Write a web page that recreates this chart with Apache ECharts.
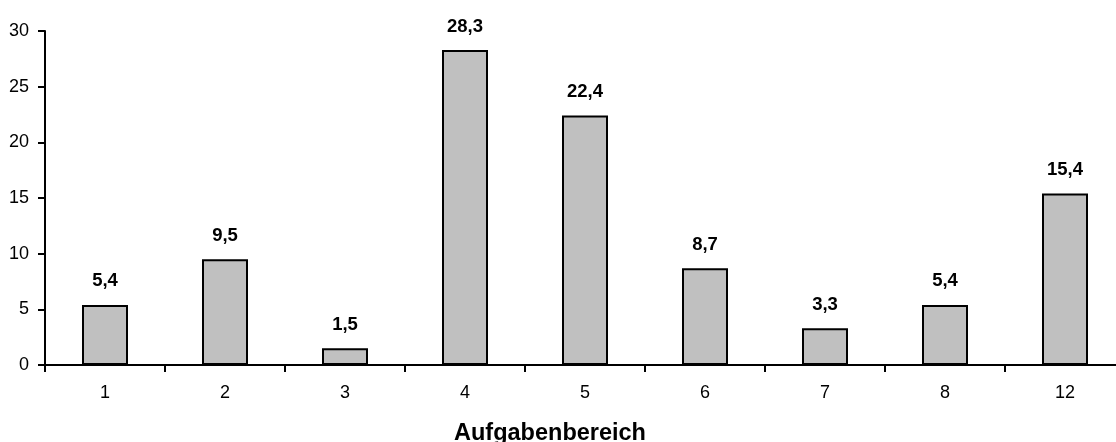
<!DOCTYPE html>
<html>
<head>
<meta charset="utf-8">
<script src="https://cdn.jsdelivr.net/npm/echarts@6/dist/echarts.min.js"></script>
<style>
html,body{margin:0;padding:0;background:#fff;}
#c{width:1116px;height:442px;}
</style>
</head>
<body>
<div id="c"></div>
<script>
const categories = ['1', '2', '3', '4', '5', '6', '7', '8', '12'];
const values = [5.4, 9.5, 1.5, 28.3, 22.4, 8.7, 3.3, 5.4, 15.4];
const xTitle = 'Aufgabenbereich';
const yMin = 0, yMax = 30, yStep = 5;

const sans = "'Liberation Sans', Arial, sans-serif";
const chart = echarts.init(document.getElementById('c'), null, {renderer: 'canvas'});
chart.setOption({
  animation: false,
  backgroundColor: '#ffffff',
  grid: {left: 45, top: 31, right: -9, bottom: 77, containLabel: false, outerBoundsMode: 'none'},
  xAxis: {
    type: 'category',
    data: categories,
    boundaryGap: true,
    name: xTitle,
    nameLocation: 'middle',
    nameGap: 57,
    nameTextStyle: {fontFamily: sans, fontWeight: 'bold', fontSize: 23.5, color: '#000', padding: [0, 70, 0, 0]},
    axisLine: {lineStyle: {color: '#000', width: 2}},
    axisTick: {show: true, alignWithLabel: false, length: 7, lineStyle: {color: '#000', width: 2}},
    axisLabel: {margin: 19, fontFamily: sans, fontSize: 18, color: '#000'},
    splitLine: {show: false}
  },
  yAxis: {
    type: 'value',
    min: yMin, max: yMax, interval: yStep,
    axisLine: {show: true, lineStyle: {color: '#000', width: 2}},
    axisTick: {show: true, length: 7, lineStyle: {color: '#000', width: 2}},
    axisLabel: {margin: 16, fontFamily: sans, fontSize: 18, color: '#000'},
    splitLine: {show: false}
  },
  series: [{
    type: 'bar',
    data: values,
    barWidth: 46,
    itemStyle: {color: '#c0c0c0', borderColor: '#000', borderWidth: 2},
    label: {
      show: true,
      position: 'top',
      distance: 14,
      fontFamily: sans,
      fontSize: 18.5,
      fontWeight: 'bold',
      color: '#000',
      formatter: p => String(p.value).replace('.', ',')
    }
  }]
});
</script>
</body>
</html>
